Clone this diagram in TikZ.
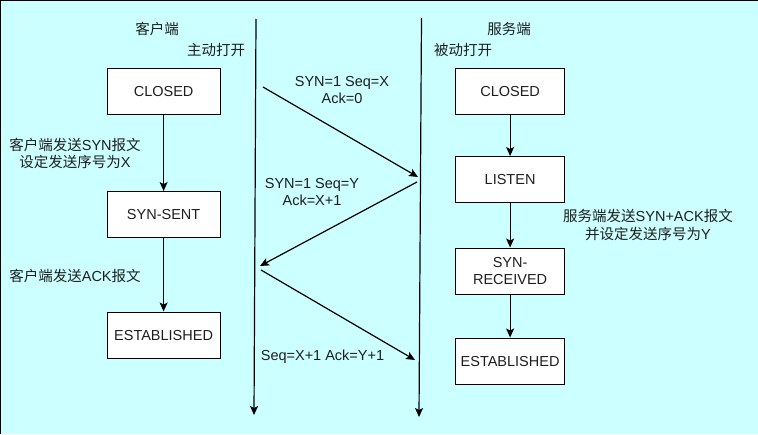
\documentclass[tikz,border=0pt]{standalone}
\usepackage{fontspec}
\setmainfont{Liberation Sans}
\newfontfamily\cjk{Noto Sans CJK SC}
\usetikzlibrary{arrows.meta}
\definecolor{bgcyan}{RGB}{204,255,255}
\definecolor{txt}{RGB}{30,30,30}
\begin{document}
\begin{tikzpicture}[x=1pt,y=-1pt,
  every node/.style={font=\fontsize{14.5}{17.5}\selectfont, text=txt},
  statebox/.style={draw, line width=1.2pt, fill=white, minimum width=113pt, minimum height=46pt, inner sep=2pt, align=center, anchor=north west},
  lbl/.style={align=center, inner sep=0pt},
  flow/.style={draw, line width=1.2pt, -{Stealth[length=9pt,width=8pt,inset=2pt]}}]
\useasboundingbox (0,0) rectangle (758,434);
\fill[bgcyan] (0,0) rectangle (758,434);
\draw[line width=1.5pt] (0,434) -- (0,0) -- (758,0);
% timelines
\coordinate (lt) at (256,19);
\coordinate (lb) at (254,415);
\coordinate (rt) at (421.5,18);
\coordinate (rb) at (419,417);
\draw[flow] (lt) -- (lb);
\draw[flow] (rt) -- (rb);
% headers
\node[lbl] (ch) at (157,29) {\cjk 客户端};
\node[lbl] (co) at (216,50) {\cjk 主动打开};
\node[lbl] (sh) at (509,29) {\cjk 服务端};
\node[lbl] (so) at (463,50) {\cjk 被动打开};
% client states
\node[statebox] (c1) at (106.5,68) {CLOSED};
\node[statebox] (c2) at (106.5,191) {SYN-SENT};
\node[statebox] (c3) at (106.5,311.5) {ESTABLISHED};
% server states
\node[statebox, minimum width=109pt] (s1) at (455,68) {CLOSED};
\node[statebox, minimum width=109pt] (s2) at (455,156) {LISTEN};
\node[statebox, minimum width=109pt] (s3) at (455,247.5) {SYN-\\RECEIVED};
\node[statebox, minimum width=109pt] (s4) at (455,337.5) {ESTABLISHED};
\draw[flow] (c1) -- (c2);
\draw[flow] (c2) -- (c3);
\draw[flow] (s1) -- (s2);
\draw[flow] (s2) -- (s3);
\draw[flow] (s3) -- (s4);
% side labels
\node[lbl] (l1) at (75,153.5) {{\cjk 客户端发送}SYN{\cjk 报文}\\{\cjk 设定发送序号为}X};
\node[lbl] (l2) at (75,276) {{\cjk 客户端发送}ACK{\cjk 报文}};
\node[lbl] (l3) at (648,225) {{\cjk 服务端发送}SYN+ACK{\cjk 报文}\\{\cjk 并设定发送序号为}Y};
% messages
\coordinate (m1a) at (263,87);
\coordinate (m1b) at (418,177);
\coordinate (m2a) at (417,182);
\coordinate (m2b) at (260,266);
\coordinate (m3a) at (261,270);
\coordinate (m3b) at (415,360);
\draw[flow] (m1a) -- (m1b);
\draw[flow] (m2a) -- (m2b);
\draw[flow] (m3a) -- (m3b);
\node[lbl] (t1) at (342,90) {SYN=1 Seq=X\\Ack=0};
\node[lbl] (t2) at (312,192) {SYN=1 Seq=Y\\Ack=X+1};
\node[lbl] (t3) at (322.5,357) {Seq=X+1 Ack=Y+1};
\end{tikzpicture}
\end{document}
